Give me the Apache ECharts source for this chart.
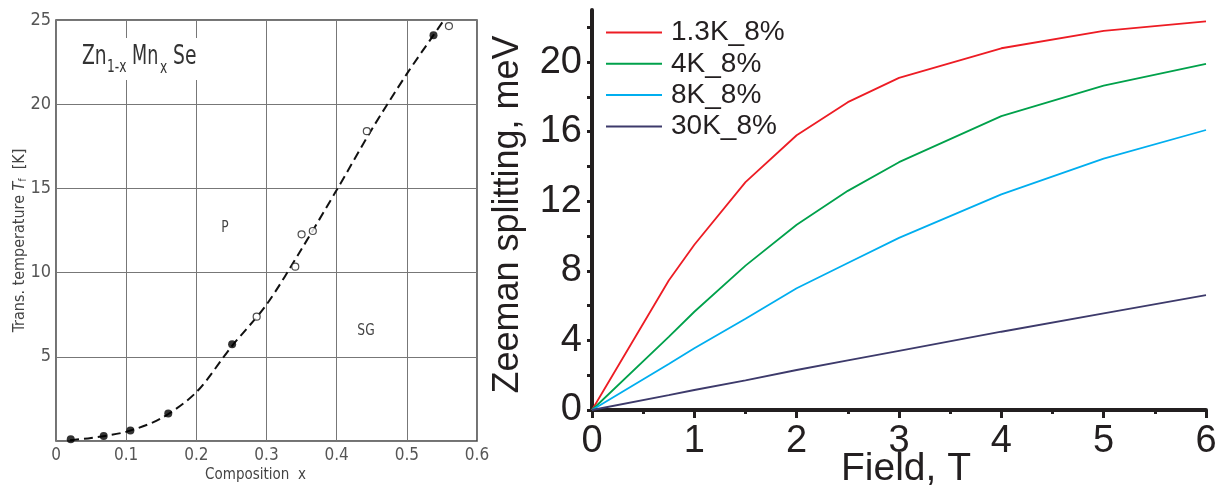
<!DOCTYPE html>
<html><head><meta charset="utf-8">
<script src="https://cdn.jsdelivr.net/npm/echarts@6/dist/echarts.min.js"></script>
<style>html,body{margin:0;padding:0;background:#fff}#c{width:1229px;height:488px}</style>
</head><body><div id="c"></div>
<script>
// ---------- Left panel: Zn(1-x)Mn(x)Se transition temperature ----------
const filledX = [0.021, 0.068, 0.106, 0.160, 0.251, 0.538];
const filledY = [0.1, 0.3, 0.62, 1.64, 5.74, 24.1];
const openX = [0.286, 0.341, 0.350, 0.366, 0.443, 0.560];
const openY = [7.38, 10.35, 12.27, 12.47, 18.4, 24.64];
const curveX = [0.02, 0.05, 0.1, 0.15, 0.2, 0.25, 0.3, 0.35, 0.4, 0.45, 0.5, 0.538, 0.553];
const curveY = [0.05, 0.18, 0.55, 1.35, 2.9, 5.6, 8.1, 11.4, 14.9, 18.5, 21.8, 24.1, 25];

// ---------- Right panel: Zeeman splitting vs field ----------
const field = [0, 0.75, 1, 1.5, 2, 2.5, 3, 4, 5, 6];
const seriesNames = ['1.3K_8%', '4K_8%', '8K_8%', '30K_8%'];
const z13K = [0, 7.45, 9.5, 13.1, 15.8, 17.7, 19.1, 20.8, 21.8, 22.35];
const z4K  = [0, 4.2, 5.65, 8.3, 10.65, 12.6, 14.25, 16.9, 18.65, 19.9];
const z8K  = [0, 2.65, 3.55, 5.25, 7.0, 8.45, 9.9, 12.4, 14.45, 16.1];
const z30K = [0, 0.85, 1.15, 1.7, 2.3, 2.85, 3.4, 4.5, 5.55, 6.6];
const yMajor = [0, 4, 8, 12, 16, 20];
const yTicks = [0, 2, 4, 6, 8, 10, 12, 14, 16, 18, 20, 22];
const colors = ['#ed1c24', '#00a14b', '#00aeef', '#3d3a6b'];

const zip = (a, b) => a.map((v, i) => [v, b[i]]);
const narrow = "'Liberation Sans Narrow','DejaVu Sans Condensed',sans-serif";
const arial = "'Liberation Sans',Arial,Helvetica,sans-serif";
const ink = '#231f20';

const chart = echarts.init(document.getElementById('c'), null, {renderer: 'canvas'});
chart.setOption({
  backgroundColor: '#fff',
  animation: false,
  grid: [
    {left: 56, top: 20, width: 421, height: 421, show: true, borderColor: '#444', borderWidth: 1.5,
     containLabel: false, outerBoundsMode: 'none'},
    {left: 592, top: 10, width: 614, height: 400, containLabel: false, outerBoundsMode: 'none'}
  ],
  xAxis: [
    {gridIndex: 0, type: 'value', min: 0, max: 0.6, interval: 0.1,
     axisLine: {show: false}, axisTick: {show: false},
     splitLine: {show: true, lineStyle: {color: '#777', width: 1}},
     axisLabel: {color: '#555', fontFamily: narrow, fontSize: 17, margin: 6,
       formatter: v => v === 0 ? '0' : v.toFixed(1)},
     name: 'Composition  x', nameLocation: 'middle', nameGap: 27, nameMoveOverlap: false,
     nameTextStyle: {color: '#444', fontFamily: narrow, fontSize: 15, padding: [0, 22, 0, 0]}},
    {gridIndex: 1, type: 'value', min: 0, max: 6, interval: 1,
     axisLine: {show: true, onZero: false, lineStyle: {color: ink, width: 4}},
     axisTick: {show: true, length: 8, lineStyle: {color: ink, width: 3}},
     minorTick: {show: true, splitNumber: 2, length: 4, lineStyle: {color: ink, width: 3}},
     splitLine: {show: false},
     axisLabel: {color: ink, fontFamily: arial, fontSize: 38, margin: 13},
     name: 'Field, T', nameLocation: 'middle', nameGap: 40, nameMoveOverlap: false,
     nameTextStyle: {color: ink, fontFamily: arial, fontSize: 39, padding: [0, 0, 0, 14]}}
  ],
  yAxis: [
    {gridIndex: 0, type: 'value', min: 0, max: 25, interval: 5,
     axisLine: {show: false}, axisTick: {show: false},
     splitLine: {show: true, lineStyle: {color: '#777', width: 1}},
     axisLabel: {color: '#555', fontFamily: narrow, fontSize: 18, margin: 5,
       formatter: v => v === 0 ? '' : String(v)},
     name: 'Trans. temperature {i|T}{s|f}  [K]', nameLocation: 'middle', nameGap: 28, nameMoveOverlap: false,
     nameTextStyle: {color: '#444', fontFamily: narrow, fontSize: 16, padding: [0, 20, 0, 0],
       rich: {i: {fontStyle: 'italic', fontFamily: narrow, fontSize: 16, color: '#444'},
              s: {fontFamily: narrow, fontSize: 10, color: '#444', verticalAlign: 'bottom'}}}},
    {gridIndex: 1, type: 'value', min: 0, max: 23,
     axisLine: {show: true, onZero: false, lineStyle: {color: ink, width: 4}},
     axisTick: {show: true, length: 5, customValues: yTicks, lineStyle: {color: ink, width: 3}},
     splitLine: {show: false},
     axisLabel: {color: ink, fontFamily: arial, fontSize: 38, margin: 10, customValues: yMajor},
     name: 'Zeeman splitting, meV', nameLocation: 'middle', nameGap: 66, nameMoveOverlap: false,
     nameTextStyle: {color: ink, fontFamily: arial, fontSize: 36, padding: [0, 9, 0, 0]}}
  ],
  legend: {
    data: seriesNames, orient: 'vertical', left: 606, top: 17, padding: 0,
    icon: 'rect', itemWidth: 56, itemHeight: 2, itemGap: 0.3,
    textStyle: {color: ink, fontFamily: arial, fontSize: 28, lineHeight: 31, padding: [0, 0, 0, 4]}
  },
  graphic: [
    {type: 'rect', shape: {x: 76, y: 38, width: 124, height: 42}, style: {fill: '#fff'}, z: 90, silent: true},
    {type: 'text', x: 82, y: 57, scaleX: 0.8, z: 100, style: {text: 'Zn', font: "26px " + narrow, fill: '#333', verticalAlign: 'middle'}},
    {type: 'text', x: 107, y: 68, scaleX: 0.8, z: 100, style: {text: '1-x', font: "17px " + narrow, fill: '#333', verticalAlign: 'middle'}},
    {type: 'text', x: 132, y: 57, scaleX: 0.75, z: 100, style: {text: 'Mn', font: "26px " + narrow, fill: '#333', verticalAlign: 'middle'}},
    {type: 'text', x: 160, y: 69, scaleX: 0.8, z: 100, style: {text: 'x', font: "17px " + narrow, fill: '#333', verticalAlign: 'middle'}},
    {type: 'text', x: 173, y: 57, scaleX: 0.8, z: 100, style: {text: 'Se', font: "26px " + narrow, fill: '#333', verticalAlign: 'middle'}},
    {type: 'text', x: 225, y: 228, scaleX: 0.85, z: 100, style: {text: 'P', font: "16px " + narrow, fill: '#444', align: 'center', verticalAlign: 'middle'}},
    {type: 'text', x: 366, y: 331, scaleX: 0.85, z: 100, style: {text: 'SG', font: "16px " + narrow, fill: '#444', align: 'center', verticalAlign: 'middle'}}
  ],
  series: [
    {type: 'line', name: 'curve', xAxisIndex: 0, yAxisIndex: 0, data: zip(curveX, curveY),
     smooth: 0.3, symbol: 'none', lineStyle: {color: '#111', width: 2, type: [9, 5]}, z: 3},
    {type: 'scatter', name: 'filled', xAxisIndex: 0, yAxisIndex: 0, data: zip(filledX, filledY),
     symbol: 'circle', symbolSize: 8, itemStyle: {color: '#000'}, z: 4},
    {type: 'scatter', name: 'open', xAxisIndex: 0, yAxisIndex: 0, data: zip(openX, openY),
     symbol: 'circle', symbolSize: 7, itemStyle: {color: '#fff', borderColor: '#222', borderWidth: 1.2}, z: 4},
    ...[z13K, z4K, z8K, z30K].map((arr, i) => ({
      type: 'line', name: seriesNames[i], xAxisIndex: 1, yAxisIndex: 1,
      data: zip(field, arr), symbol: 'none', showSymbol: false,
      lineStyle: {color: colors[i], width: 1.8}, itemStyle: {color: colors[i]}
    }))
  ]
});
</script></body></html>
